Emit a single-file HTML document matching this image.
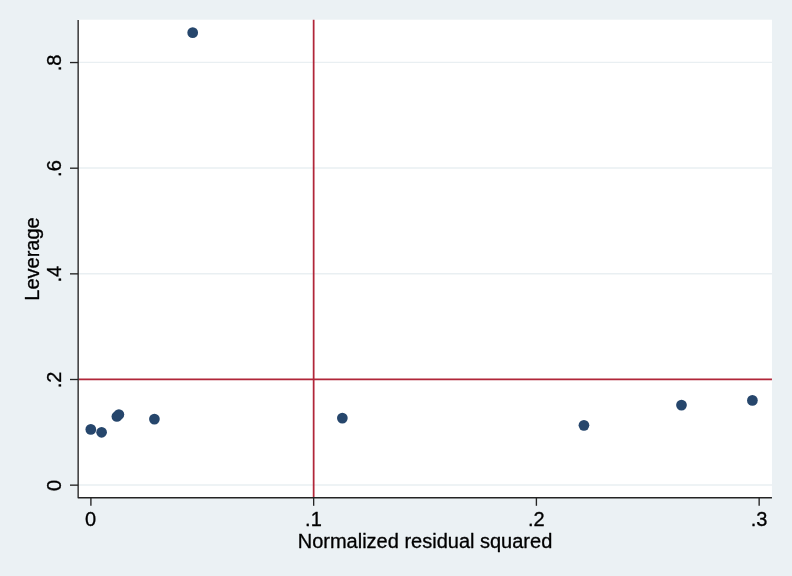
<!DOCTYPE html>
<html>
<head>
<meta charset="utf-8">
<title>Leverage vs normalized residual squared</title>
<style>
html,body{margin:0;padding:0;background:#ebf1f4;}
body{width:792px;height:576px;overflow:hidden;}
svg{display:block;}
text{font-family:"Liberation Sans",Arial,Helvetica,sans-serif;font-size:20px;fill:#000;stroke:#000;stroke-width:0.32px;stroke-linejoin:round;}
</style>
</head>
<body>
<svg width="792" height="576" viewBox="0 0 792 576">
  <rect x="0" y="0" width="792" height="576" fill="#ebf1f4"/>
  <!-- plot region -->
  <rect x="78" y="19.7" width="693.95" height="477.9" fill="#ffffff"/>
  <!-- grid -->
  <g stroke="#e9eff2" stroke-width="1.4">
    <line x1="79" x2="771.95" y1="485" y2="485"/>
    <line x1="79" x2="771.95" y1="379.35" y2="379.35"/>
    <line x1="79" x2="771.95" y1="273.7" y2="273.7"/>
    <line x1="79" x2="771.95" y1="168.05" y2="168.05"/>
    <line x1="79" x2="771.95" y1="62.4" y2="62.4"/>
  </g>
  <!-- reference lines -->
  <g stroke="#b12639" stroke-width="1.75">
    <line x1="78.5" x2="771.95" y1="379.45" y2="379.45"/>
    <line x1="313.65" x2="313.65" y1="19.8" y2="497.5"/>
  </g>
  <!-- markers -->
  <g fill="#26466c">
    <circle cx="192.7" cy="32.65" r="5.35"/>
    <circle cx="90.8" cy="429.4" r="5.35"/>
    <circle cx="101.6" cy="432.3" r="5.35"/>
    <circle cx="116.9" cy="416.5" r="5.35"/>
    <circle cx="118.9" cy="414.5" r="5.35"/>
    <circle cx="154.4" cy="419.1" r="5.35"/>
    <circle cx="342.35" cy="418.1" r="5.35"/>
    <circle cx="583.95" cy="425.35" r="5.35"/>
    <circle cx="681.5" cy="405.1" r="5.35"/>
    <circle cx="752.4" cy="400.4" r="5.35"/>
  </g>
  <!-- axes -->
  <g stroke="#242424" stroke-width="1.35" fill="none">
    <polyline points="78.15,20 78.15,497.72 771.95,497.72" stroke-linejoin="round"/>
    <!-- y ticks -->
    <line x1="70" x2="78.15" y1="485.15" y2="485.15"/>
    <line x1="70" x2="78.15" y1="379.5" y2="379.5"/>
    <line x1="70" x2="78.15" y1="273.85" y2="273.85"/>
    <line x1="70" x2="78.15" y1="168.2" y2="168.2"/>
    <line x1="70" x2="78.15" y1="62.55" y2="62.55"/>
    <!-- x ticks -->
    <line x1="90.9" x2="90.9" y1="497.72" y2="505.8"/>
    <line x1="313.65" x2="313.65" y1="497.72" y2="505.8"/>
    <line x1="536.4" x2="536.4" y1="497.72" y2="505.8"/>
    <line x1="759.15" x2="759.15" y1="497.72" y2="505.8"/>
  </g>
  <!-- x tick labels -->
  <g text-anchor="middle" style="filter:grayscale(1)">
    <text x="90.6" y="526.1">0</text>
    <text x="313.45" y="526.1">.1</text>
    <text x="536.3" y="526.1">.2</text>
    <text x="759.1" y="526.1">.3</text>
    <text x="425" y="547.75">Normalized residual squared</text>
  </g>
  <!-- y tick labels -->
  <g text-anchor="middle" style="filter:grayscale(1)">
    <text transform="translate(61.3 485.50) rotate(-90)">0</text>
    <text transform="translate(61.3 379.85) rotate(-90)">.2</text>
    <text transform="translate(61.3 274.20) rotate(-90)">.4</text>
    <text transform="translate(61.3 168.55) rotate(-90)">.6</text>
    <text transform="translate(61.3 62.90) rotate(-90)">.8</text>
    <text transform="translate(39.4 259.0) rotate(-90)">Leverage</text>
  </g>
</svg>
</body>
</html>
